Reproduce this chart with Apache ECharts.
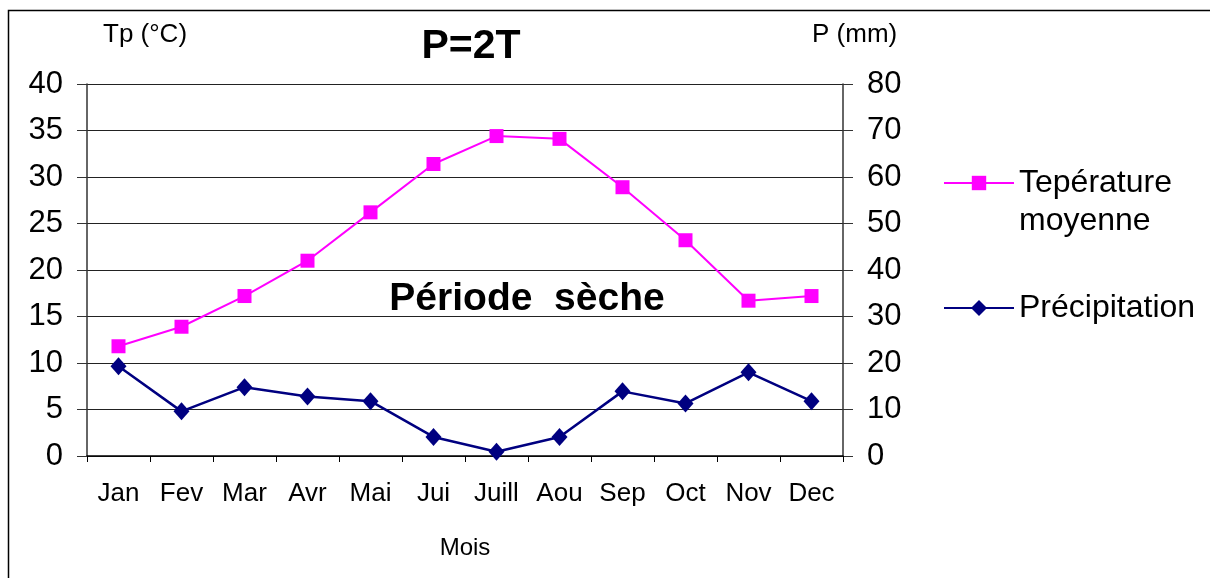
<!DOCTYPE html>
<html>
<head>
<meta charset="utf-8">
<script src="https://cdn.jsdelivr.net/npm/echarts@6/dist/echarts.min.js"></script>
<style>
  html, body { margin: 0; padding: 0; background: #fff; }
  #chart { width: 1210px; height: 578px; }
</style>
</head>
<body>
<div id="chart"></div>
<script>
const mois = ['Jan', 'Fev', 'Mar', 'Avr', 'Mai', 'Jui', 'Juill', 'Aou', 'Sep', 'Oct', 'Nov', 'Dec'];
// temperature moyenne (°C), axe de gauche
const temperature = [11.8, 13.9, 17.2, 21.0, 26.2, 31.4, 34.4, 34.1, 28.9, 23.2, 16.7, 17.2];
// precipitations (mm), axe de droite
const precipitation = [19.3, 9.6, 14.8, 12.8, 11.8, 4.1, 0.9, 4.1, 13.9, 11.3, 18.0, 11.8];

const font = 'Liberation Sans, Arial, sans-serif';

const chart = echarts.init(document.getElementById('chart'));
chart.setOption({
    animation: false,
    backgroundColor: '#fff',
    textStyle: { fontFamily: font, color: '#000' },
    title: {
        text: 'P=2T',
        left: 466,
        top: 21,
        textAlign: 'center',
        textStyle: { fontFamily: font, fontSize: 41, fontWeight: 'bold', color: '#000' }
    },
    legend: [{
        data: ['Tepérature moyenne'],
        left: 938,
        top: 121,
        itemWidth: 70,
        itemHeight: 18,
        formatter: () => ' \nTepérature\nmoyenne',
        textStyle: { fontFamily: font, fontSize: 32, lineHeight: 38, color: '#000' }
    }, {
        data: ['Précipitation'],
        left: 938,
        top: 284,
        itemWidth: 70,
        itemHeight: 20,
        textStyle: { fontFamily: font, fontSize: 32, lineHeight: 38, color: '#000' }
    }],
    grid: { left: 87, right: 367, top: 84, bottom: 122 },
    xAxis: {
        type: 'category',
        data: mois,
        boundaryGap: true,
        name: 'Mois',
        nameLocation: 'middle',
        nameGap: 80,
        nameTextStyle: { fontFamily: font, fontSize: 24, color: '#000', verticalAlign: 'top' },
        axisLine: { lineStyle: { color: '#000', width: 1.5 } },
        axisTick: { show: true, length: 6, lineStyle: { color: '#000' } },
        axisLabel: { fontFamily: font, fontSize: 26, color: '#000', margin: 25 }
    },
    yAxis: [{
        type: 'value',
        min: 0,
        max: 40,
        interval: 5,
        axisLine: { show: true, lineStyle: { color: '#333', width: 1.5 } },
        axisTick: { show: true, length: 10, lineStyle: { color: '#333' } },
        axisLabel: { fontFamily: font, fontSize: 31, color: '#000', margin: 24 },
        splitLine: { show: true, lineStyle: { color: '#222', width: 1 } }
    }, {
        type: 'value',
        min: 0,
        max: 80,
        interval: 10,
        position: 'right',
        axisLine: { show: true, lineStyle: { color: '#333', width: 1.5 } },
        axisTick: { show: true, length: 10, lineStyle: { color: '#333' } },
        axisLabel: { fontFamily: font, fontSize: 31, color: '#000', margin: 24 },
        splitLine: { show: false }
    }],
    series: [{
        name: 'Tepérature moyenne',
        type: 'line',
        yAxisIndex: 0,
        data: temperature,
        symbol: 'rect',
        symbolSize: 14,
        itemStyle: { color: '#FF00FF' },
        lineStyle: { color: '#FF00FF', width: 2 }
    }, {
        name: 'Précipitation',
        type: 'line',
        yAxisIndex: 1,
        data: precipitation,
        symbol: 'diamond',
        symbolSize: [16, 18],
        itemStyle: { color: '#000080' },
        lineStyle: { color: '#000080', width: 2.5 }
    }],
    graphic: [{
        type: 'polyline',
        shape: { points: [[8.5, 578], [8.5, 10.5], [1210, 10.5]] },
        style: { stroke: '#000', lineWidth: 1.5, fill: null }
    }, {
        type: 'text',
        left: 103,
        top: 22,
        style: { text: 'Tp (°C)', fontFamily: font, fontSize: 26, fill: '#000' }
    }, {
        type: 'text',
        left: 812,
        top: 22,
        style: { text: 'P (mm)', fontFamily: font, fontSize: 26, fill: '#000' }
    }, {
        type: 'text',
        x: 527,
        y: 299,
        style: {
            text: 'Période  sèche',
            fontFamily: font,
            fontSize: 39,
            fontWeight: 'bold',
            fill: '#000',
            align: 'center',
            verticalAlign: 'middle'
        }
    }]
});
</script>
</body>
</html>
